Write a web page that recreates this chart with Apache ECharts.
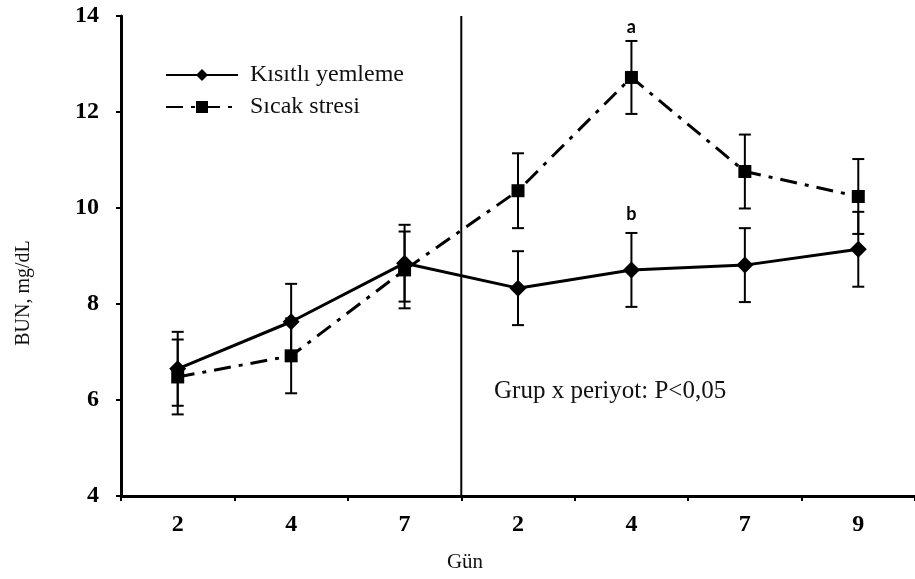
<!DOCTYPE html>
<html>
<head>
<meta charset="utf-8">
<script src="https://cdn.jsdelivr.net/npm/echarts@6/dist/echarts.min.js"></script>
<style>html,body{margin:0;padding:0;background:#fff;}#c{width:915px;height:579px;}</style>
</head>
<body>
<div id="c"></div>
<script>
// ---- data ----
var categories = ['2', '4', '7', '2', '4', '7', '9'];
var kisitliMean = [6.65, 7.63, 8.85, 8.33, 8.71, 8.81, 9.14];
var kisitliErr  = [0.77, 0.79, 0.80, 0.77, 0.77, 0.77, 0.78];
var sicakMean   = [6.48, 6.92, 8.71, 10.36, 12.72, 10.76, 10.24];
var sicakErr    = [0.78, 0.78, 0.80, 0.78, 0.76, 0.77, 0.78];
var kisitliLetters = ['', '', '', '', 'b', '', ''];
var sicakLetters   = ['', '', '', '', 'a', '', ''];
var yTicks = [4, 6, 8, 10, 12, 14];
var dividerIndex = 3; // vertical line before this category
var seriesNames = ['Kısıtlı yemleme', 'Sıcak stresi'];
var noteText = 'Grup x periyot: P<0,05';

var serif = '"Liberation Serif", "Times New Roman", serif';

function errData(mean, err) {
  return mean.map(function (m, i) { return [i, m - err[i], m + err[i]]; });
}
function errRender(letters, gap) {
  return function (params, api) {
    var lo = api.coord([api.value(0), api.value(1)]);
    var hi = api.coord([api.value(0), api.value(2)]);
    var cw = 6;
    var st = { stroke: '#000', lineWidth: 2 };
    var children = [
      { type: 'line', shape: { x1: lo[0], y1: lo[1], x2: hi[0], y2: hi[1] }, style: st },
      { type: 'line', shape: { x1: lo[0] - cw, y1: lo[1], x2: lo[0] + cw, y2: lo[1] }, style: st },
      { type: 'line', shape: { x1: hi[0] - cw, y1: hi[1], x2: hi[0] + cw, y2: hi[1] }, style: st }
    ];
    var L = letters[params.dataIndex];
    if (L) {
      children.push({ type: 'text', x: hi[0], y: hi[1] - gap,
        style: { text: L, fill: '#000', font: 'bold 18px Lato, "Liberation Sans", sans-serif',
                 align: 'center', verticalAlign: 'bottom' } });
    }
    return { type: 'group', children: children };
  };
}

var chart = echarts.init(document.getElementById('c'), null, { renderer: 'canvas' });
chart.setOption({
  backgroundColor: '#fff',
  animation: false,
  grid: { left: 121, top: 16, width: 798, height: 480, containLabel: false },
  legend: {
    data: seriesNames,
    orient: 'vertical',
    left: 160, top: 58,
    itemWidth: 72, itemHeight: 15, itemGap: 8,
    textStyle: { fontFamily: serif, fontSize: 24, color: '#111', padding: [0, 0, 0, 7] }
  },
  xAxis: {
    type: 'category',
    data: categories,
    boundaryGap: true,
    name: 'Gün',
    nameLocation: 'middle',
    nameGap: 56,
    nameTextStyle: { fontFamily: serif, fontSize: 21, color: '#111', padding: [0, 106, 0, 0] },
    axisLine: { lineStyle: { color: '#000', width: 3 } },
    axisTick: { show: true, length: 5, lineStyle: { color: '#000', width: 2 } },
    axisLabel: { fontFamily: serif, fontWeight: 'bold', fontSize: 24, color: '#000', margin: 17 },
    splitLine: { show: false }
  },
  yAxis: {
    type: 'value',
    min: yTicks[0], max: yTicks[yTicks.length - 1], interval: 2,
    name: 'BUN, mg/dL',
    nameLocation: 'middle',
    nameGap: 87,
    nameRotate: 90,
    nameTextStyle: { fontFamily: serif, fontSize: 20, color: '#111', padding: [0, 74, 0, 0] },
    axisLine: { show: true, lineStyle: { color: '#000', width: 3 } },
    axisTick: { show: true, length: 5, lineStyle: { color: '#000', width: 2 } },
    axisLabel: { fontFamily: serif, fontWeight: 'bold', fontSize: 24, color: '#000', margin: 22 },
    splitLine: { show: false }
  },
  graphic: [{
    type: 'text', left: 494, top: 379,
    style: { text: noteText, font: '25px ' + serif, fill: '#111' }
  }],
  series: [
    {
      type: 'custom', name: 'divider', silent: true, z: 1,
      data: [[dividerIndex]],
      renderItem: function (params, api) {
        var w = api.size([1, 0])[0];
        var top = api.coord([api.value(0), yTicks[yTicks.length - 1]]);
        var bot = api.coord([api.value(0), yTicks[0]]);
        var x = top[0] - w / 2;
        return { type: 'line', shape: { x1: x, y1: top[1], x2: x, y2: bot[1] },
                 style: { stroke: '#000', lineWidth: 2 } };
      }
    },
    {
      type: 'custom', name: 'errK', silent: true, z: 1,
      data: errData(kisitliMean, kisitliErr),
      encode: { x: 0, y: [1, 2] },
      renderItem: errRender(kisitliLetters, 10)
    },
    {
      type: 'custom', name: 'errS', silent: true, z: 1,
      data: errData(sicakMean, sicakErr),
      encode: { x: 0, y: [1, 2] },
      renderItem: errRender(sicakLetters, 5)
    },
    {
      type: 'line', name: seriesNames[0], z: 3,
      data: kisitliMean,
      symbol: 'diamond', symbolSize: 17, showSymbol: true,
      itemStyle: { color: '#000' },
      lineStyle: { color: '#000', width: 3 }
    },
    {
      type: 'line', name: seriesNames[1], z: 3,
      data: sicakMean,
      symbol: 'rect', symbolSize: 13, showSymbol: true,
      itemStyle: { color: '#000' },
      lineStyle: { color: '#000', width: 3, type: [17, 8, 4, 8] }
    }
  ]
});
</script>
</body>
</html>
